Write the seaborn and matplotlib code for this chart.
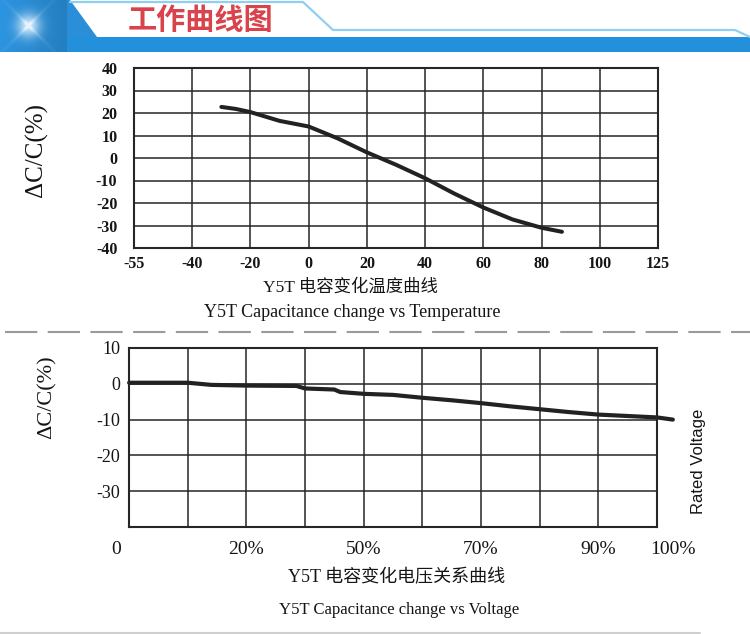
import numpy as np
import matplotlib
matplotlib.use("Agg")
import matplotlib.pyplot as plt
import matplotlib.transforms as mtrans
from matplotlib.patches import Rectangle, Polygon
import seaborn as sns

# --- temperature curve: deg C vs dC/C (%)
temp = [-30, -25, -20, -10, 0, 10, 20, 30, 40, 50, 60, 70, 80, 87]
temp_dc = [22.7, 21.8, 20.4, 16.5, 14.0, 8.7, 2.5, -3.0, -9.0, -15.8, -22.0, -27.3, -31.0, -32.8]
temp_ticks = [-55, -40, -20, 0, 20, 40, 60, 80, 100, 125]
temp_yticks = [-40, -30, -20, -10, 0, 10, 20, 30, 40]

# --- voltage curve: % of rated voltage vs dC/C (%)
volt = [2, 11, 14.6, 20, 32.8, 35, 42.5, 44, 50, 55, 60, 65, 70, 75, 80, 85, 90, 94, 97.9, 100]
volt_dc = [0.3, 0.3, -0.3, -0.5, -0.6, -1.3, -1.6, -2.3, -2.8, -3.1, -3.9, -4.6, -5.4,
           -6.3, -7.1, -7.9, -8.6, -9.0, -9.4, -10.0]
volt_ticks = [0, 20, 50, 70, 90, 100]
volt_labels = ["0", "20%", "50%", "70%", "90%", "100%"]
volt_yticks = [10, 0, -10, -20, -30]

# where the (unevenly spaced) tick values sit on the 9-column grid
temp_grid_pos = np.arange(10)
volt_grid_pos = [-0.22, 2, 4, 6, 8, 9.27]

SERIF = ["Liberation Serif", "DejaVu Serif"]
CJK = ["Liberation Serif", "Noto Sans CJK SC", "DejaVu Sans"]
INK = "#151515"
LINE = "#262626"

sns.set_theme(style="white")
plt.rcParams["font.family"] = ["Liberation Serif", "Noto Sans CJK SC", "DejaVu Sans"]

W, H = 750, 634
fig = plt.figure(figsize=(W / 100, H / 100), dpi=100)
fig.patch.set_facecolor("white")


def px_axes(left, top, right, bottom):
    return fig.add_axes([left / W, (H - bottom) / H, (right - left) / W, (bottom - top) / H])


def grid_scale(vals, pos):
    vals = np.asarray(vals, float)
    pos = np.asarray(pos, float)
    fwd = lambda x: np.interp(x, vals, pos)
    inv = lambda p: np.interp(p, pos, vals)
    return fwd, inv


# ---------------- background / header ----------------
bg = fig.add_axes([0, 0, 1, 1], zorder=0)
bg.axis("off")

yy, xx = np.mgrid[0:52, 0:68]
d = np.hypot(xx - 28, yy - 25)
glow = np.exp(-(d / 12) ** 2)
streak = np.exp(-((np.abs(xx - 28) - np.abs(yy - 25)) / 2.5) ** 2) * np.exp(-d / 18)
wgt = np.clip(0.85 * glow + 0.3 * streak, 0, 1)[..., None]
base = np.array([0.17, 0.58, 0.88]) * (1 - 0.15 * (xx / 68.0))[..., None]
img = base * (1 - wgt) + np.array([0.90, 0.96, 1.0]) * wgt
bg.imshow(img, extent=(0, 68, 52, 0), aspect="auto", interpolation="bilinear")

bg.add_patch(Rectangle((67, 37), W - 67, 15, color="#2390db", lw=0))
bg.add_patch(Polygon([(67, 0), (70, 0), (97, 37), (67, 37)], closed=True, color="#2a8fd8", lw=0))
bg.plot([70, 303, 333, 735, 750], [2, 2, 30, 30, 37], color="#8fd0f2", lw=1.6)
bg.text(200, 20, "工作曲线图", color="#d9434b", fontsize=21, fontweight="bold",
        family=["Noto Sans CJK SC"], ha="center", va="center")

# separators
bg.plot([5, W], [332, 332], color="#9a9a9a", lw=1.5, dashes=(15.5, 5))
bg.plot([0, 700], [632.5, 632.5], color="#cfcfcf", lw=1.5)
bg.set_xlim(0, W)
bg.set_ylim(H, 0)


def style_grid(ax):
    ax.set_facecolor("white")
    ax.grid(True, color=LINE, lw=1.1)
    for s in ax.spines.values():
        s.set_visible(True)
        s.set_color(LINE)
        s.set_linewidth(1.5)
    ax.tick_params(length=0, colors=INK)


# ---------------- temperature chart ----------------
ax1 = px_axes(134, 68, 658, 248)
f1, i1 = grid_scale(temp_ticks, temp_grid_pos)
ax1.set_xscale("function", functions=(f1, i1))
sns.lineplot(x=temp, y=temp_dc, ax=ax1, color="#222222", linewidth=2.9, errorbar=None)
ax1.set_xlim(-55, 125)
ax1.set_ylim(-40, 40)
ax1.set_xticks(temp_ticks)
ax1.set_xticklabels([str(t) for t in temp_ticks])
ax1.set_yticks(temp_yticks)
ax1.set_yticklabels([str(t) for t in temp_yticks])
ax1.xaxis.set_minor_locator(matplotlib.ticker.NullLocator())
style_grid(ax1)
ax1.tick_params(axis="x", pad=6)
ax1.tick_params(axis="y", pad=12)
for lab in ax1.get_xticklabels() + ax1.get_yticklabels():
    lab.set_family(SERIF)
    lab.set_fontsize(11.5)
    lab.set_fontweight("bold")
ax1.set_ylabel("ΔC/C(%)", family=SERIF, fontsize=18, color=INK)
ax1.yaxis.set_label_coords(-0.164, 0.545)

fig.text(350 / W, 1 - 287 / H, "Y5T 电容变化温度曲线", family=CJK, fontsize=12.5,
         color=INK, ha="center", va="center")
fig.text(352 / W, 1 - 312 / H, "Y5T Capacitance change vs Temperature", family=SERIF,
         fontsize=13, color=INK, ha="center", va="center")

# ---------------- voltage chart ----------------
ax2 = px_axes(129, 348, 657, 527)
f2, i2 = grid_scale(volt_ticks, volt_grid_pos)
ax2.set_xscale("function", functions=(f2, i2))
sns.lineplot(x=volt, y=volt_dc, ax=ax2, color="#222222", linewidth=3.0, errorbar=None)
ax2.lines[-1].set_clip_on(False)
ax2.set_xlim(i2(0), i2(9))
ax2.set_ylim(-40, 10)
ax2.set_xticks(i2(np.arange(10)))
ax2.set_xticklabels([])
ax2.xaxis.set_minor_locator(matplotlib.ticker.NullLocator())
ax2.set_yticks(volt_yticks)
ax2.set_yticklabels([str(t) for t in volt_yticks])
style_grid(ax2)
ax2.tick_params(axis="y", pad=6.5)
for lab in ax2.get_yticklabels():
    lab.set_family(SERIF)
    lab.set_fontsize(13)

xblend = mtrans.blended_transform_factory(ax2.transData, ax2.transAxes)
for v, lab in zip(volt_ticks, volt_labels):
    ax2.text(v, -23 / 179, lab, transform=xblend, family=SERIF, fontsize=14,
             color=INK, ha="center", va="center", clip_on=False)

ax2.set_ylabel("ΔC/C(%)", family=SERIF, fontsize=16, color=INK)
ax2.yaxis.set_label_coords(-0.138, 0.726)

fig.text(698 / W, 1 - 461 / H, "Rated Voltage", family=["Liberation Sans"], fontsize=12,
         color=INK, rotation=90, ha="center", va="center")
fig.text(397 / W, 1 - 578 / H, "Y5T 电容变化电压关系曲线", family=CJK, fontsize=13,
         color=INK, ha="center", va="center")
fig.text(399 / W, 1 - 610 / H, "Y5T Capacitance change vs Voltage", family=SERIF,
         fontsize=12, color=INK, ha="center", va="center")

fig.savefig("out.png", dpi=100)
